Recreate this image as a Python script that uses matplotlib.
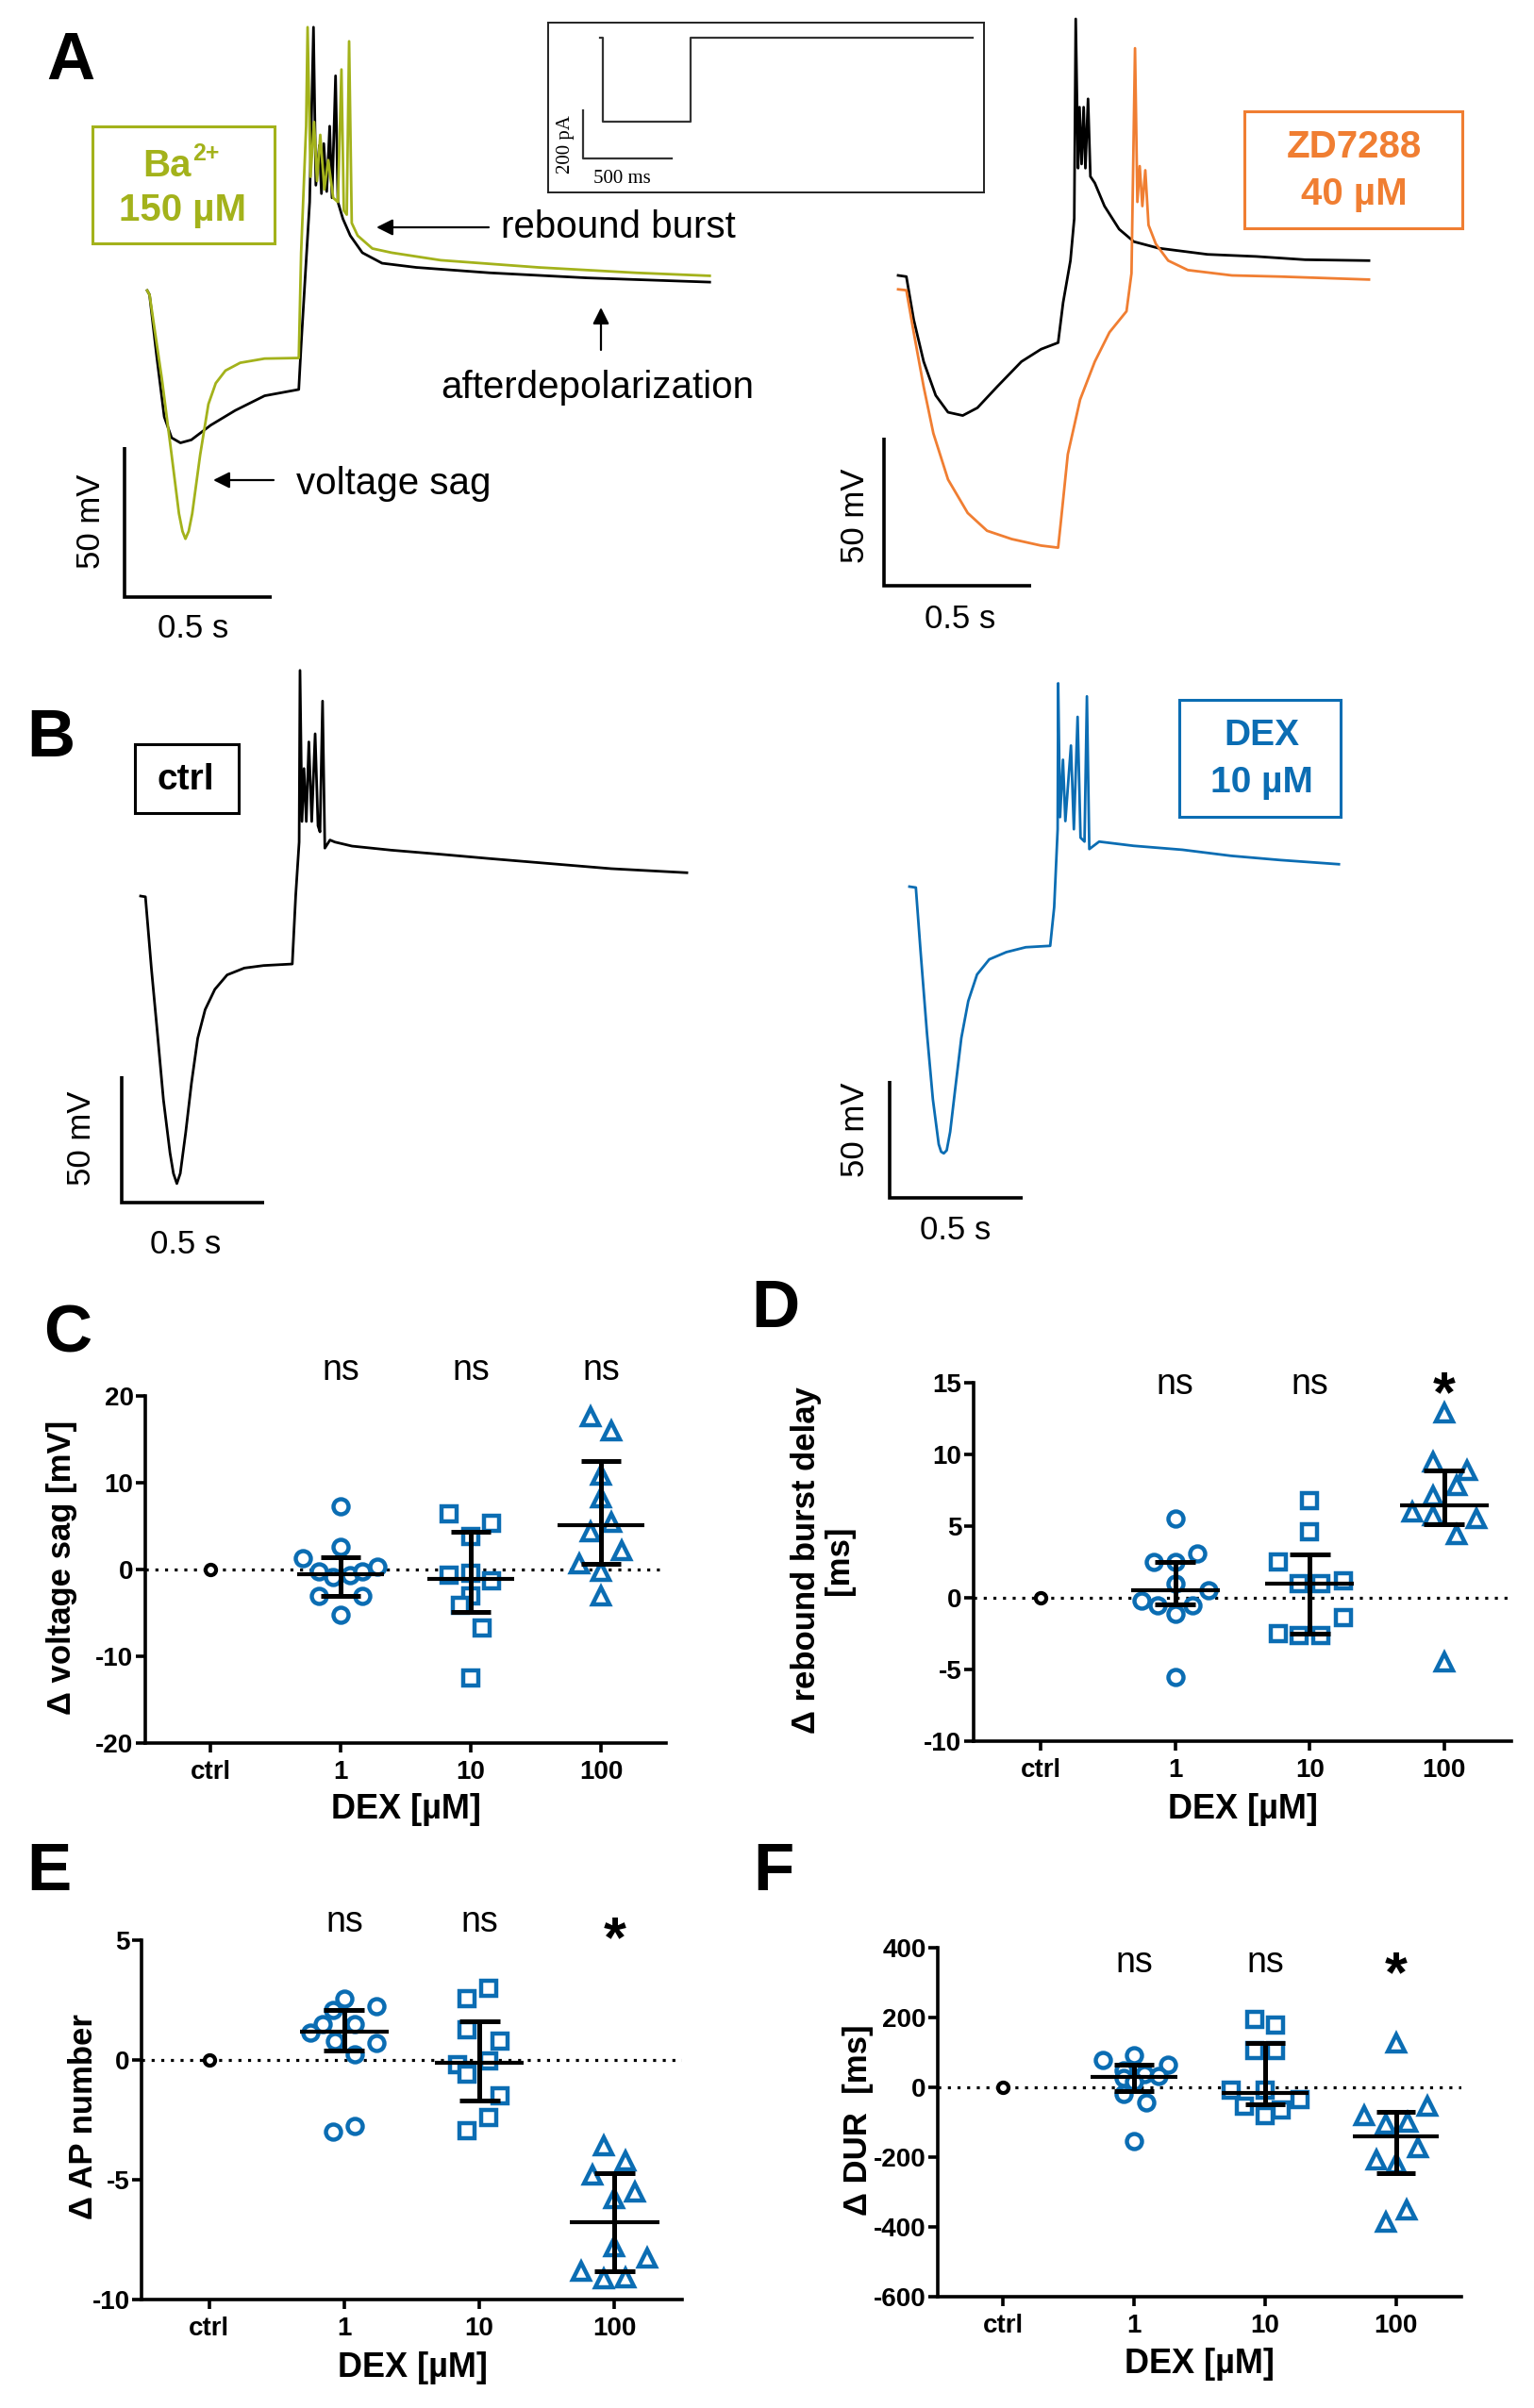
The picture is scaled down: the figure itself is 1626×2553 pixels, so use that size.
import matplotlib
matplotlib.use('Agg')
import matplotlib.pyplot as plt
from matplotlib.patches import Rectangle, FancyArrowPatch
from matplotlib.transforms import blended_transform_factory

W, H = 1626, 2553
plt.rcParams['font.family'] = ['Liberation Sans', 'DejaVu Sans']
plt.rcParams['axes.unicode_minus'] = False
NARROW = ['Liberation Sans Narrow', 'Liberation Sans', 'DejaVu Sans']

GREEN = '#A3B21B'
ORANGE = '#F07E32'
BLUE = '#0B6DB3'

# ---------- traces (time in ms, voltage in mV) ----------
ba_t = [0, 8, 50, 83, 108, 120, 130, 141, 153, 180, 208, 233, 266, 316, 399, 515, 523, 540, 545, 555, 567,
        577, 588, 602, 615, 632, 648, 660, 668, 678, 686, 695, 715, 765, 831, 997, 1330, 1662, 1911]
ba_v = [-60, -61.4, -89.5, -114.8, -134.4, -140.3, -142.8, -140.3, -134.4, -114.8, -97.9, -90.9, -86.7,
        -84.1, -82.7, -82.5, -47.4, -5.2, 27.8, -22.1, -3.8, -23.5, -8.1, -26.3, -16.5, -29.1, -30.5, 13.7,
        -33.3, -34.7, 23.1, -37.5, -41.7, -46.0, -47.4, -49.9, -52.3, -54.1, -55.1]
ctl_a_t = [0, 8, 33, 58, 83, 113, 150, 216, 299, 399, 515, 523, 540, 552, 565, 573, 585, 592, 600, 610,
           620, 628, 640, 648, 665, 690, 731, 798, 914, 1163, 1496, 1911]
ctl_a_v = [-60, -61.4, -82.5, -102.1, -109.1, -110.8, -109.8, -104.9, -100.0, -95.1, -93.0, -78.3, -50.2,
           -30.5, 27.8, -24.9, -11.6, -27.7, -11.0, -27.0, -5.2, -29.1, 11.6, -30.5, -36.1, -41.7, -47.4,
           -50.9, -52.3, -54.1, -55.8, -57.2]

zd_ctl_t = [0, 28, 53, 87, 128, 170, 220, 270, 337, 420, 487, 545, 562, 587, 600, 605, 613, 618, 625, 632,
            638, 647, 655, 670, 703, 753, 803, 887, 1054, 1220, 1387, 1604]
zd_ctl_v = [-60, -60.4, -74.9, -89.1, -100.5, -106.2, -107.3, -104.7, -97.6, -89.1, -84.9, -82.7, -69.2,
            -55.0, -40.8, 26.6, -23.8, -3.2, -22.4, -3.2, -23.8, -0.4, -26.6, -28.8, -36.6, -44.4, -48.6,
            -50.8, -52.9, -53.6, -54.7, -55.0]
zd_t = [0, 28, 53, 87, 120, 170, 237, 303, 387, 487, 545, 553, 578, 620, 670, 720, 778, 795, 807, 815,
        823, 832, 842, 853, 878, 920, 987, 1137, 1303, 1604]
zd_v = [-64.7, -65.0, -79.2, -97.6, -113.3, -128.9, -140.2, -146.2, -149.0, -151.2, -151.9, -144.5, -120.4,
        -101.9, -89.1, -79.2, -72.1, -59.3, 16.7, -35.2, -23.1, -36.6, -24.5, -43.0, -49.4, -55.0, -58.2,
        -60.0, -60.4, -61.4]

b_ctl_t = [0, 17, 38, 58, 80, 103, 115, 127, 139, 158, 178, 200, 226, 260, 303, 363, 431, 531, 543, 555,
           558, 565, 572, 580, 589, 599, 611, 621, 628, 637, 645, 663, 680, 740, 877, 1048, 1219, 1390,
           1647, 1912]
b_ctl_v = [-60, -60.3, -88.7, -112.9, -140.3, -161.3, -169.4, -173.4, -169.4, -153.2, -133.9, -116.1,
           -104.8, -96.8, -91.1, -88.4, -87.4, -86.8, -59.7, -38.7, 29.0, -30.6, -9.7, -30.6, 0.8, -30.6,
           4.0, -32.3, -34.7, 16.9, -41.1, -37.9, -38.7, -40.3, -41.9, -43.5, -45.2, -46.8, -49.2, -50.8]
dex_t = [0, 24, 42, 66, 88, 110, 119, 129, 140, 153, 171, 195, 221, 254, 300, 364, 437, 529, 544, 557,
         559, 566, 577, 586, 607, 618, 632, 643, 658, 667, 676, 713, 842, 1026, 1209, 1393, 1614]
dex_v = [-60, -60.4, -88.1, -123.1, -151.2, -170.5, -173.7, -174.4, -173.1, -165.2, -147.7, -124.9,
         -109.1, -97.7, -91.2, -88.1, -86.0, -85.4, -68.8, -35.4, 27.2, -30.2, -5.6, -31.9, 0.5, -35.4,
         12.8, -39.0, -40.7, 21.6, -43.9, -40.7, -42.5, -44.2, -46.8, -48.6, -50.4]

# current step protocol (ms, pA)
step_t = [0, 15, 15, 510, 510, 2100]
step_i = [0, 0, -350, -350, 0, 0]

# ---------- summary data (C-F) ----------
doses = ['ctrl', '1', '10', '100']

c_dose1 = [7.3, 2.6, 1.3, 0.3, -0.2, -0.9, -0.7, -0.2, -3.0, -3.0, -5.2]
c_dx1 = [0, 0, -0.29, 0.28, -0.17, -0.06, 0.07, 0.17, -0.17, 0.17, 0]
c_dose10 = [6.4, 5.3, 3.8, -0.7, -0.4, -1.3, -3.0, -4.1, -6.7, -12.5]
c_dx10 = [-0.17, 0.16, 0, -0.17, 0, 0.16, 0, -0.08, 0.09, 0]
c_dose100 = [17.6, 16.0, 10.9, 8.3, 5.4, 4.3, 2.2, 0.7, -0.2, -3.0]
c_dx100 = [-0.08, 0.08, 0, 0, 0.08, -0.08, 0.16, -0.17, 0, 0]
c_mean = [-0.5, -1.1, 5.1]
c_lo = [-3.0, -4.9, 0.6]
c_hi = [1.4, 4.35, 12.5]
c_sig = ['ns', 'ns', 'ns']

d_dose1 = [5.5, 2.5, 2.5, 3.1, 1.0, 0.5, -0.2, -0.5, -0.5, -1.1, -5.5]
d_dx1 = [0, -0.16, 0, 0.16, 0, 0.25, -0.25, -0.13, 0.13, 0, 0]
d_dose10 = [6.8, 4.6, 2.5, 1.0, 1.0, 1.2, -1.4, -2.5, -2.6, -2.6]
d_dx10 = [0, 0, -0.23, -0.08, 0.08, 0.25, 0.25, -0.23, -0.08, 0.08]
d_dose100 = [12.9, 9.5, 8.9, 7.8, 7.1, 6.0, 5.7, 5.5, 4.4, -4.5]
d_dx100 = [0, -0.08, 0.17, 0.09, -0.08, -0.24, -0.08, 0.24, 0.09, 0]
d_mean = [0.55, 1.0, 6.45]
d_lo = [-0.45, -2.5, 5.13]
d_hi = [2.5, 3.05, 8.85]
d_sig = ['ns', 'ns', '*']

e_dose1 = [2.55, 2.25, 2.1, 1.5, 1.5, 1.15, 0.8, 0.7, 0.25, -3.0, -2.75]
e_dx1 = [0, 0.24, -0.08, -0.16, 0.08, -0.25, -0.07, 0.24, 0.08, -0.08, 0.08]
e_dose10 = [3.0, 2.55, 1.25, 0.8, -0.05, -0.2, -0.6, -1.5, -2.4, -2.95]
e_dx10 = [0.07, -0.09, -0.09, 0.15, 0.07, -0.16, -0.09, 0.15, 0.07, -0.09]
e_dose100 = [-3.6, -4.2, -4.8, -5.5, -5.8, -7.8, -8.25, -8.8, -9.15, -9.1]
e_dx100 = [-0.08, 0.08, -0.16, 0.15, 0, 0, 0.24, -0.25, -0.08, 0.08]
e_mean = [1.17, -0.12, -6.76]
e_lo = [0.41, -1.7, -8.83]
e_hi = [2.08, 1.6, -4.73]
e_sig = ['ns', 'ns', '*']

f_dose1 = [92, 78, 64, 49, 38, 33, 28, 15, -19, -44, -153]
f_dx1 = [0, -0.24, 0.26, -0.08, 0.08, 0.19, -0.08, 0, -0.08, 0.09, 0]
f_dose10 = [195, 178, 105, 105, -8, -8, -34, -55, -81, -65]
f_dx10 = [-0.08, 0.08, -0.08, 0.08, -0.26, 0, 0.27, -0.16, 0, 0.12]
f_dose100 = [126, -55, -81, -106, -99, -174, -208, -218, -352, -386]
f_dx100 = [0, 0.24, -0.24, -0.08, 0.09, 0.17, -0.15, 0, 0.08, -0.08]
f_mean = [31, -17, -141]
f_lo = [-11, -48, -246]
f_hi = [64, 126, -70]
f_sig = ['ns', 'ns', '*']

fig = plt.figure(figsize=(W / 100, H / 100), dpi=100)
fig.patch.set_facecolor('white')


def ftext(x, y, s, **kw):
    # x, y in pixels from top-left
    return fig.text(x / W, 1 - y / H, s, **kw)


def fbox(x0, y0, x1, y1, color, lw=2.2):
    fig.add_artist(Rectangle((x0 / W, 1 - y1 / H), (x1 - x0) / W, (y1 - y0) / H,
                             transform=fig.transFigure, fill=False, ec=color, lw=lw))


def farrow(x0, y0, x1, y1):
    fig.add_artist(FancyArrowPatch((x0 / W, 1 - y0 / H), (x1 / W, 1 - y1 / H), transform=fig.transFigure,
                                   arrowstyle='-|>', mutation_scale=26, lw=1.6, color='k',
                                   shrinkA=0, shrinkB=0))


def trace_ax(box, anchor, ms_px, mv_px, v0=-60):
    x0, y0, x1, y1 = box
    ax = fig.add_axes([x0 / W, 1 - y1 / H, (x1 - x0) / W, (y1 - y0) / H])
    ax.set_xlim((x0 - anchor[0]) * ms_px, (x1 - anchor[0]) * ms_px)
    ax.set_ylim(v0 - (y1 - anchor[1]) * mv_px, v0 + (anchor[1] - y0) * mv_px)
    ax.axis('off')
    return ax


def scalebar(ax, t0, vb, dt=500, dv=50):
    ax.plot([t0, t0, t0 + dt], [vb + dv, vb, vb], color='k', lw=2.6, solid_joinstyle='miter',
            solid_capstyle='butt', clip_on=False)


# ===== A left =====
axA1 = trace_ax((90, 0, 800, 700), (156, 308), 3.205, 0.3145)
axA1.plot(ctl_a_t, ctl_a_v, color='k', lw=2.0, clip_on=False)
axA1.plot(ba_t, ba_v, color=GREEN, lw=2.0, clip_on=False)
scalebar(axA1, -77, -162.2)
ftext(96, 553, '50 mV', rotation=90, ha='center', va='center', fontsize=25)
ftext(205, 667, '0.5 s', ha='center', va='center', fontsize=25)
fbox(98, 134, 291, 258, GREEN)
ftext(203, 187, 'Ba', ha='right', va='baseline', fontsize=29, fontweight='bold', color=GREEN)
ftext(204, 170, '2+', ha='left', va='baseline', fontsize=18, fontweight='bold', color=GREEN)
ftext(194, 223, '150 µM', ha='center', va='center', fontsize=29, fontweight='bold', color=GREEN)
ftext(314, 513, 'voltage sag', ha='left', va='center', fontsize=29)
farrow(290, 509, 226, 509)
ftext(531, 241, 'rebound burst', ha='left', va='center', fontsize=29)
farrow(518, 241, 399, 241)
ftext(467, 411, 'afterdepolarization', ha='left', va='center', fontsize=29)
farrow(637, 371, 637, 326)
ftext(75, 66, 'A', ha='center', va='center', fontsize=51, fontweight='bold')

# inset: current protocol
axI = fig.add_axes([581 / W, 1 - 204 / H, (1043 - 581) / W, (204 - 24) / H])
axI.set_xlim((581 - 636) * 5.32, (1043 - 636) * 5.32)
axI.set_ylim(-(204 - 40) * 3.92, (40 - 24) * 3.92)
axI.set_xticks([])
axI.set_yticks([])
for s in axI.spines.values():
    s.set_linewidth(1.4)
    s.set_color('#222222')
axI.plot(step_t, step_i, color='#333333', lw=1.6)
axI.plot([-97, -97, 403], [-302, -502, -502], color='#333333', lw=1.6)
ftext(599, 153, '200 pA', rotation=90, ha='center', va='center', fontsize=15,
      family=['Liberation Serif', 'DejaVu Serif'])
ftext(659, 190, '500 ms', ha='center', va='center', fontsize=15, family=['Liberation Serif', 'DejaVu Serif'])

# ===== A right =====
axA2 = trace_ax((900, 0, 1600, 700), (952, 292), 3.214, 0.3184)
axA2.plot(zd_ctl_t, zd_ctl_v, color='k', lw=2.0, clip_on=False)
axA2.plot(zd_t, zd_v, color=ORANGE, lw=2.0, clip_on=False)
scalebar(axA2, -48, -164.8)
ftext(906, 547, '50 mV', rotation=90, ha='center', va='center', fontsize=25)
ftext(1018, 656, '0.5 s', ha='center', va='center', fontsize=25)
fbox(1319, 118, 1550, 242, ORANGE)
ftext(1435, 156, 'ZD7288', ha='center', va='center', fontsize=29, fontweight='bold', color=ORANGE)
ftext(1435, 206, '40 µM', ha='center', va='center', fontsize=29, fontweight='bold', color=ORANGE)

# ===== B =====
axB1 = trace_ax((90, 690, 800, 1350), (149, 950), 3.302, 0.372)
axB1.plot(b_ctl_t, b_ctl_v, color='k', lw=2.0, clip_on=False)
scalebar(axB1, -66, -180.9)
ftext(86, 1207, '50 mV', rotation=90, ha='center', va='center', fontsize=25)
ftext(197, 1320, '0.5 s', ha='center', va='center', fontsize=25)
fbox(143, 789, 253, 862, 'k')
ftext(197, 827, 'ctrl', ha='center', va='center', fontsize=28, fontweight='bold')
ftext(54, 784, 'B', ha='center', va='center', fontsize=51, fontweight='bold')

axB2 = trace_ax((900, 690, 1600, 1350), (964, 940), 3.546, 0.4045)
axB2.plot(dex_t, dex_v, color=BLUE, lw=2.0, clip_on=False)
scalebar(axB2, -74.5, -193.5)
ftext(906, 1198, '50 mV', rotation=90, ha='center', va='center', fontsize=25)
ftext(1013, 1305, '0.5 s', ha='center', va='center', fontsize=25)
fbox(1250, 742, 1421, 866, BLUE)
ftext(1337, 780, 'DEX', ha='center', va='center', fontsize=28, fontweight='bold', color=BLUE)
ftext(1337, 830, '10 µM', ha='center', va='center', fontsize=28, fontweight='bold', color=BLUE)


# ===== C-F scatter panels =====
def stat_panel(left, right, ytop_px, ybot_px, ytop, ybot, yticks, groups, offsets,
               mean, lo, hi, sig, ns_y, star_y):
    ax = fig.add_axes([left / W, 1 - ybot_px / H, (right - left) / W, (ybot_px - ytop_px) / H])
    ax.set_xlim(-0.5, 3.5)
    ax.set_ylim(ybot, ytop)
    for s in ['top', 'right']:
        ax.spines[s].set_visible(False)
    for s in ['left', 'bottom']:
        ax.spines[s].set_linewidth(2.6)
    ax.set_xticks(range(4))
    ax.set_xticklabels(doses)
    ax.set_yticks(yticks)
    ax.set_yticklabels([str(v) for v in yticks])
    ax.tick_params(direction='out', length=7, width=2.6, labelsize=20)
    ax.tick_params(axis='x', pad=6)
    ax.tick_params(axis='y', pad=2)
    for lab in ax.get_xticklabels() + ax.get_yticklabels():
        lab.set_fontfamily(NARROW)
        lab.set_fontweight('bold')
    ax.axhline(0, color='k', lw=2.3, ls=(0, (1, 2.2)), zorder=1)
    ax.plot([0], [0], 'o', ms=8, mfc='white', mec='k', mew=3, clip_on=False, zorder=3)
    markers = ['o', 's', '^']
    sizes = [11.5, 11, 12.5]
    for i, (vals, dx) in enumerate(zip(groups, offsets)):
        xc = i + 1
        ax.plot([xc + d for d in dx], vals, ls='none', marker=markers[i], ms=sizes[i], mfc='white',
                mec=BLUE, mew=3.2, clip_on=False, zorder=3)
        ax.plot([xc - 0.33, xc + 0.33], [mean[i], mean[i]], color='k', lw=3, solid_capstyle='butt', zorder=4)
        ax.plot([xc, xc], [lo[i], hi[i]], color='k', lw=3.6, solid_capstyle='butt', zorder=4)
        for yv in (lo[i], hi[i]):
            ax.plot([xc - 0.15, xc + 0.15], [yv, yv], color='k', lw=3.6, solid_capstyle='butt', zorder=4)
    trans = blended_transform_factory(ax.transData, ax.transAxes)
    for i, s in enumerate(sig):
        if s == '*':
            ax.text(i + 1, star_y, s, transform=trans, ha='center', va='center', fontsize=44,
                    fontweight='bold')
        else:
            ax.text(i + 1, ns_y, s, transform=trans, ha='center', va='center', fontsize=27, family=NARROW)
    return ax


stat_panel(154, 706, 1480, 1848, 20, -20, [20, 10, 0, -10, -20],
           [c_dose1, c_dose10, c_dose100], [c_dx1, c_dx10, c_dx100], c_mean, c_lo, c_hi, c_sig, 1.073, 1.073)
ftext(65, 1662, 'Δ voltage sag [mV]', rotation=90, ha='center', va='center', fontsize=25, fontweight='bold')
ftext(430, 1919, 'DEX [µM]', ha='center', va='center', fontsize=26, fontweight='bold', family=NARROW)
ftext(72, 1415, 'C', ha='center', va='center', fontsize=51, fontweight='bold')

stat_panel(1032, 1602, 1466, 1846, 15, -10, [15, 10, 5, 0, -5, -10],
           [d_dose1, d_dose10, d_dose100], [d_dx1, d_dx10, d_dx100], d_mean, d_lo, d_hi, d_sig, 0.995, 0.962)
ftext(872, 1654, 'Δ rebound burst delay\n[ms]', rotation=90, ha='center', va='center', fontsize=25,
      fontweight='bold', multialignment='center', linespacing=1.1)
ftext(1317, 1919, 'DEX [µM]', ha='center', va='center', fontsize=26, fontweight='bold', family=NARROW)
ftext(822, 1389, 'D', ha='center', va='center', fontsize=51, fontweight='bold')

stat_panel(150, 723, 2057, 2438, 5, -10, [5, 0, -5, -10],
           [e_dose1, e_dose10, e_dose100], [e_dx1, e_dx10, e_dx100], e_mean, e_lo, e_hi, e_sig, 1.05, 0.995)
ftext(88, 2244, 'Δ AP number', rotation=90, ha='center', va='center', fontsize=25, fontweight='bold')
ftext(437, 2510, 'DEX [µM]', ha='center', va='center', fontsize=26, fontweight='bold', family=NARROW)
ftext(52, 1986, 'E', ha='center', va='center', fontsize=51, fontweight='bold')

stat_panel(994, 1549, 2065, 2435, 400, -600, [400, 200, 0, -200, -400, -600],
           [f_dose1, f_dose10, f_dose100], [f_dx1, f_dx10, f_dx100], f_mean, f_lo, f_hi, f_sig, 0.957, 0.918)
ftext(909, 2248, 'Δ DUR  [ms]', rotation=90, ha='center', va='center', fontsize=25, fontweight='bold')
ftext(1271, 2506, 'DEX [µM]', ha='center', va='center', fontsize=26, fontweight='bold', family=NARROW)
ftext(820, 1986, 'F', ha='center', va='center', fontsize=51, fontweight='bold')

fig.savefig('out.png', dpi=100, facecolor='white')
